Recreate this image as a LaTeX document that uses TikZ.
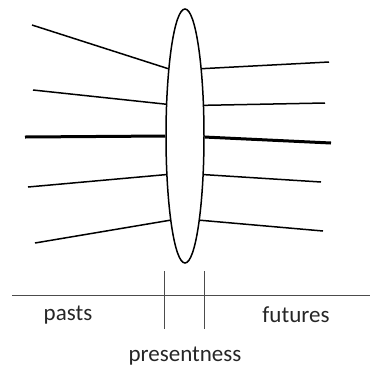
\documentclass[tikz,border=0pt]{standalone}
\usepackage{fontspec}
\setmainfont{Carlito}
\usetikzlibrary{shapes.geometric}

\begin{document}
\begin{tikzpicture}[x=1pt,y=-1pt,
        ray/.style={line width=1.5pt},
        nowray/.style={line width=3pt},
        label/.style={font=\fontsize{23}{28}\selectfont, text=black!85}]
        \useasboundingbox (0,0) rectangle (370,368);

        \node[ellipse, draw, line width=1.5pt, inner sep=0pt,
              minimum width=38pt, minimum height=254pt] (lens) at (185,136) {};

        % pasts
        \coordinate (p1) at (32,25);
        \coordinate (p2) at (33,90);
        \coordinate (p3) at (25,137);
        \coordinate (p4) at (28,187);
        \coordinate (p5) at (35,243);
        % futures
        \coordinate (f1) at (329,62);
        \coordinate (f2) at (325,103);
        \coordinate (f3) at (331,143);
        \coordinate (f4) at (321,182);
        \coordinate (f5) at (323,231);

        \draw[ray] (p1) -- (lens.104);
        \draw[ray] (p2) -- (lens.121);
        \draw[nowray] (p3) -- (lens.180);
        \draw[ray] (p4) -- (lens.244);
        \draw[ray] (p5) -- (lens.260);

        \draw[ray] (lens.76) -- (f1);
        \draw[ray] (lens.58) -- (f2);
        \draw[nowray] (lens.357) -- (f3);
        \draw[ray] (lens.296) -- (f4);
        \draw[ray] (lens.280) -- (f5);

        % time line
        \coordinate (t0) at (12,295);
        \coordinate (t1) at (370,295);
        \coordinate (a0) at (164,271);
        \coordinate (a1) at (164,329);
        \coordinate (b0) at (204,271);
        \coordinate (b1) at (204,329);
        \draw[line width=0.8pt, black!70] (t0) -- (t1);
        \draw[line width=0.8pt, black!70] (a0) -- (a1);
        \draw[line width=0.8pt, black!70] (b0) -- (b1);

        \node[label] (pasts) at (68,315) {pasts};
        \node[label] (futures) at (296,315) {futures};
        \node[label] (now) at (185,356) {presentness};
\end{tikzpicture}
\end{document}
